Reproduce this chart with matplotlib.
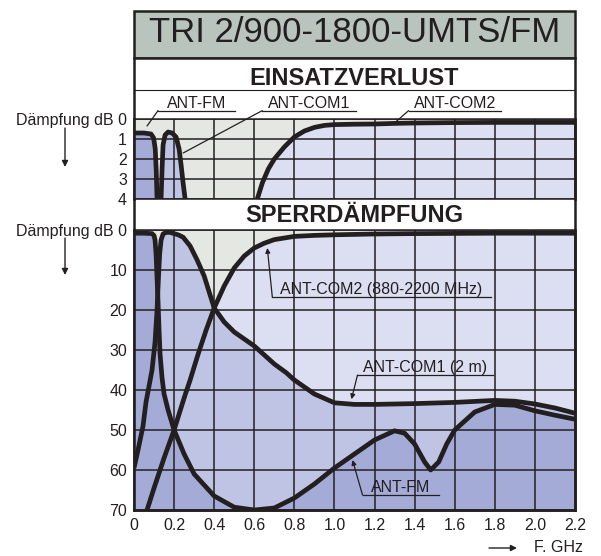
import matplotlib
matplotlib.use("Agg")
import matplotlib.pyplot as plt
import numpy as np
from matplotlib.patches import Rectangle

plt.rcParams['font.family'] = ['Liberation Sans', 'DejaVu Sans']
ink = '#231f20'

# ---- data (GHz / dB) ----
f_ticks = [0, 0.2, 0.4, 0.6, 0.8, 1.0, 1.2, 1.4, 1.6, 1.8, 2.0, 2.2]
f_labels = ['0', '0.2', '0.4', '0.6', '0.8', '1.0', '1.2', '1.4', '1.6', '1.8', '2.0', '2.2']
ins_ticks = [0, 1, 2, 3, 4]
ins_labels = ['Dämpfung dB 0', '1', '2', '3', '4']
rej_ticks = [0, 10, 20, 30, 40, 50, 60, 70]
rej_labels = ['Dämpfung dB 0', '10', '20', '30', '40', '50', '60', '70']

# Einsatzverlust
ins_fm_f = [0, 0.05, 0.085, 0.098, 0.106, 0.111, 0.115]
ins_fm_db = [0.7, 0.7, 0.75, 0.95, 1.5, 2.6, 4.0]
ins_com1_f = [0.135, 0.14, 0.145, 0.155, 0.17, 0.19, 0.21, 0.225, 0.235, 0.245, 0.255]
ins_com1_db = [4.0, 2.5, 1.3, 0.8, 0.65, 0.7, 0.9, 1.5, 2.3, 3.2, 4.0]
ins_com2_f = [0.615, 0.64, 0.67, 0.7, 0.75, 0.8, 0.85, 0.9, 0.95, 1.0, 1.1, 1.2, 1.3, 1.4, 1.6, 1.8, 2.0, 2.2]
ins_com2_db = [4.0, 3.2, 2.5, 2.0, 1.4, 0.9, 0.6, 0.42, 0.32, 0.28, 0.26, 0.25, 0.22, 0.2, 0.18, 0.17, 0.17, 0.17]

# Sperrdämpfung
rej_fm_f = [0, 0.05, 0.09, 0.1, 0.105, 0.11, 0.115, 0.12, 0.125, 0.13, 0.14, 0.15, 0.17, 0.2, 0.25, 0.3,
            0.4, 0.5, 0.6, 0.7, 0.8, 0.9, 1.0, 1.1, 1.2, 1.3, 1.35, 1.4, 1.45, 1.48, 1.52, 1.56, 1.6,
            1.7, 1.8, 1.9, 2.0, 2.1, 2.2]
rej_fm_db = [0.8, 0.8, 0.9, 1.4, 2.5, 6, 12, 18, 25, 31, 37, 41, 45, 50, 56, 61,
             66.5, 69.3, 70, 69.5, 67, 63.5, 59.5, 56, 52.5, 50.2, 50.8, 53.5, 58, 60, 58, 53.5, 50,
             45.5, 43.6, 43.8, 45.2, 46.3, 47.3]
rej_com1_f = [0, 0.02, 0.045, 0.06, 0.075, 0.09, 0.105, 0.115, 0.122, 0.128, 0.135, 0.145, 0.16, 0.18,
              0.2, 0.22, 0.245, 0.28, 0.315, 0.35, 0.4, 0.45, 0.5, 0.6, 0.7, 0.76, 0.8, 0.9, 1.0,
              1.1, 1.2, 1.4, 1.6, 1.8, 1.9, 2.0, 2.1, 2.2]
rej_com1_db = [59.5, 55, 49, 43, 39, 35, 28, 20, 12, 6, 2.5, 1.0, 0.6, 0.6,
               0.9, 1.2, 1.8, 4, 7.5, 11.5, 19.5, 23, 25.5, 29, 33.5, 35.7, 37.5, 41, 43.2,
               43.6, 43.6, 43.4, 43.1, 42.6, 42.8, 43.5, 44.5, 45.8]
rej_com2_f = [0.065, 0.1, 0.15, 0.2, 0.25, 0.28, 0.32, 0.36, 0.4, 0.45, 0.5, 0.55, 0.6, 0.65, 0.7,
              0.8, 0.9, 1.0, 1.2, 1.4, 1.6, 1.8, 2.0, 2.2]
rej_com2_db = [70, 64.5, 57, 50, 42, 37.5, 31, 25, 19.5, 14, 9.5, 6.5, 4.5, 3.3, 2.4,
               1.6, 1.35, 1.2, 1.0, 0.9, 0.85, 0.8, 0.8, 0.8]

c_grey = '#e5e7e3'
c_fm = '#a4abd7'
c_com1 = '#c0c4e4'
c_com2 = '#dcdff1'

W, H = 601, 556
fig = plt.figure(figsize=(W / 100, H / 100), dpi=100)

# background layer in pixel coords
bg = fig.add_axes([0, 0, 1, 1], zorder=0)
bg.set_xlim(0, W)
bg.set_ylim(H, 0)
bg.axis('off')
bg.add_patch(Rectangle((134, 11), 441, 47, facecolor='#b8c4bc', edgecolor=ink, lw=1.8))
bg.add_patch(Rectangle((134, 58), 441, 452, facecolor='white', edgecolor=ink, lw=1.8))
bg.plot([134, 575], [90, 90], color=ink, lw=0.8)
bg.text(354.5, 42, 'TRI 2/900-1800-UMTS/FM', ha='center', va='baseline', fontsize=25, color=ink)
bg.text(354.5, 85, 'EINSATZVERLUST', ha='center', va='baseline', fontsize=17, fontweight='bold', color=ink)
bg.text(354.5, 222, 'SPERRDÄMPFUNG', ha='center', va='baseline', fontsize=17, fontweight='bold', color=ink)
for y0, y1 in [(128, 167), (238, 275)]:
    bg.annotate('', xy=(65, y1), xytext=(65, y0),
                arrowprops=dict(arrowstyle='-|>', lw=1, color=ink, mutation_scale=9, shrinkA=0, shrinkB=0))
bg.annotate('', xy=(517, 548), xytext=(489, 548),
            arrowprops=dict(arrowstyle='-|>', lw=1, color=ink, mutation_scale=9, shrinkA=0, shrinkB=0))
bg.text(534, 548, 'F. GHz', ha='left', va='center', fontsize=11.5, color=ink)

ax1 = fig.add_axes([134 / W, 1 - 199 / H, 441 / W, 80 / H], zorder=1)
ax2 = fig.add_axes([134 / W, 1 - 510 / H, 441 / W, 280 / H], zorder=1)


def setup(ax, ymax, yt, yl):
    ax.set_facecolor(c_grey)
    ax.set_xlim(0, 2.2)
    ax.set_ylim(ymax, 0)
    ax.set_xticks(f_ticks)
    ax.set_yticks(yt)
    ax.set_yticklabels(yl)
    ax.grid(True, color=ink, lw=1.1)
    ax.set_axisbelow(False)
    ax.tick_params(length=0, pad=5, labelsize=11.5, colors=ink)
    for s in ax.spines.values():
        s.set_color(ink)
        s.set_linewidth(1.1)
    ax.spines['left'].set_linewidth(1.9)
    ax.spines['right'].set_linewidth(1.9)


setup(ax1, 4, ins_ticks, ins_labels)
ax1.set_xticklabels([])
setup(ax2, 70, rej_ticks, rej_labels)
ax2.set_xticklabels(f_labels)
ax2.spines['bottom'].set_linewidth(1.9)
ax2.tick_params(axis='x', pad=6)

# fills and curves
for ax, bottom, sets in [
    (ax1, 4, [(ins_com2_f, ins_com2_db, c_com2), (ins_com1_f, ins_com1_db, c_com1), (ins_fm_f, ins_fm_db, c_fm)]),
    (ax2, 70, [(rej_com2_f, rej_com2_db, c_com2), (rej_com1_f, rej_com1_db, c_com1), (rej_fm_f, rej_fm_db, c_fm)]),
]:
    for fx, fy, col in sets:
        ax.fill_between(fx, fy, bottom, color=col, lw=0, zorder=1)
    for fx, fy, col in sets:
        ax.plot(fx, fy, color=ink, lw=3.4, solid_joinstyle='round', solid_capstyle='butt', zorder=3)


def label(ax, text, x0, x1, yline, off, target, arrow):
    ax.text((x0 + x1) / 2, yline - off, text, ha='center', va='baseline', fontsize=11.5, color=ink, zorder=6)
    ax.plot([x0, x1], [yline, yline], color=ink, lw=0.9, clip_on=False, zorder=6)
    ax.annotate('', xy=target, xytext=(x0, yline), annotation_clip=False, zorder=6,
                arrowprops=dict(arrowstyle='-|>' if arrow else '-', lw=0.9, color=ink,
                                mutation_scale=7, shrinkA=0, shrinkB=0))


label(ax1, 'ANT-FM', 0.12, 0.505, -0.42, 0.13, (0.065, 0.35), False)
label(ax1, 'ANT-COM1', 0.64, 1.105, -0.42, 0.13, (0.245, 1.7), False)
label(ax1, 'ANT-COM2', 1.37, 1.83, -0.42, 0.13, (1.305, 0.15), False)
label(ax2, 'ANT-COM2 (880-2200 MHz)', 0.69, 1.78, 16.75, 0.65, (0.665, 4.5), True)
label(ax2, 'ANT-COM1 (2 m)', 1.115, 1.79, 36.25, 0.65, (1.085, 42.3), True)
label(ax2, 'ANT-FM', 1.14, 1.52, 66.25, 0.65, (1.09, 57.5), True)

fig.savefig('out.png', dpi=100)
